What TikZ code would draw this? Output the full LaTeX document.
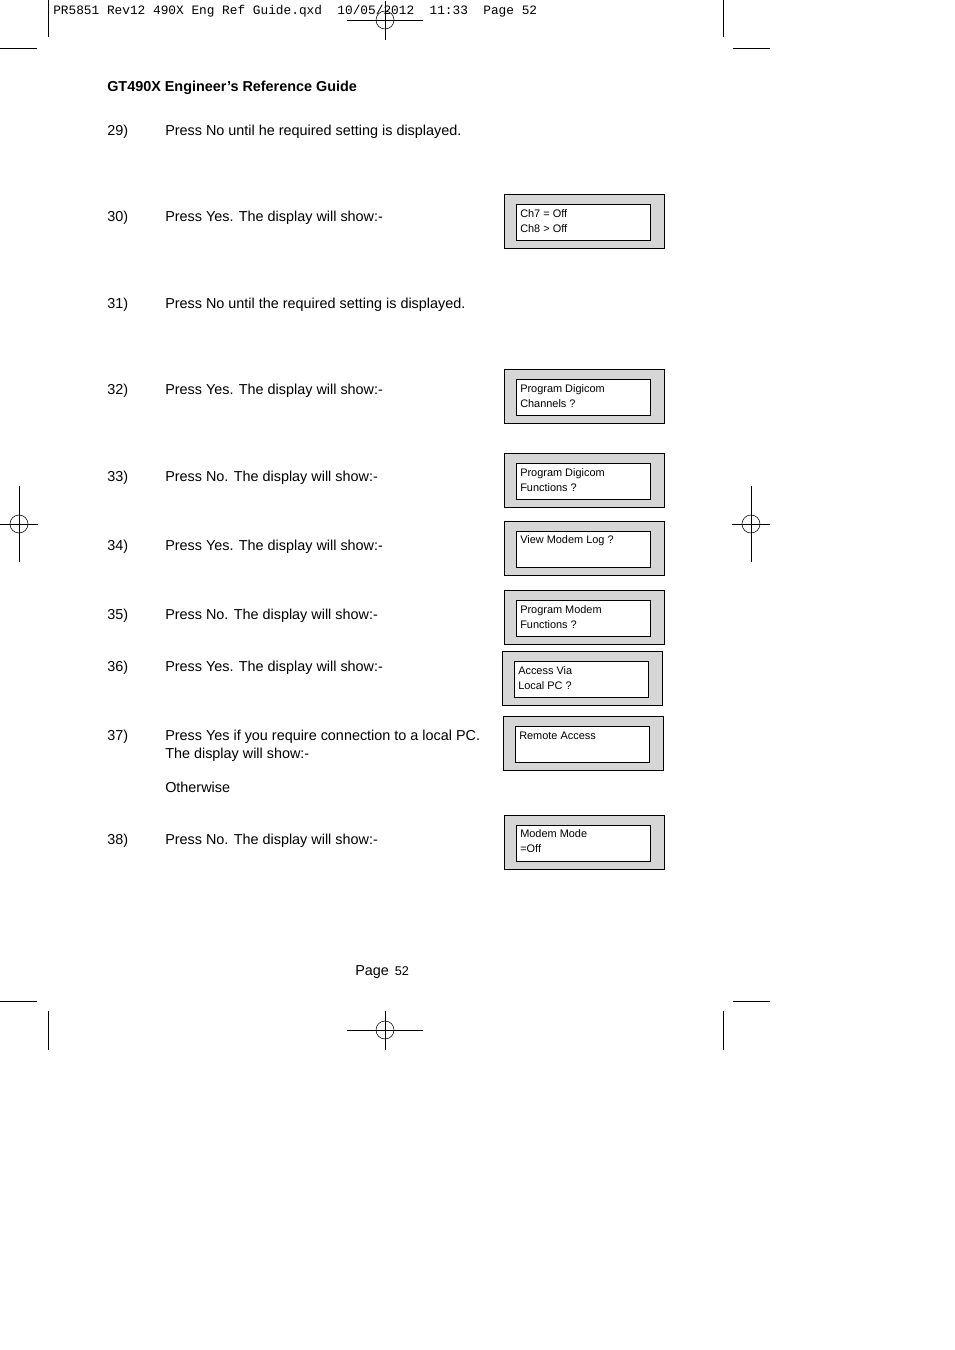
\documentclass[tikz,border=0pt]{standalone}
\usepackage{fontspec}
\setmainfont{Liberation Sans}
\newfontfamily\hdrfont{Liberation Mono}
\usetikzlibrary{positioning}
\definecolor{panelgray}{RGB}{214,214,214}
\tikzset{
  body/.style={anchor=base west, inner sep=0pt, font=\fontsize{10.8}{12}\selectfont},
  lcdtext/.style={anchor=west, inner sep=0pt, align=left, font=\fontsize{8.2}{11}\selectfont},
  panel/.style={draw=black, fill=panelgray, line width=0.5pt},
  screen/.style={draw=black, fill=white, line width=0.5pt},
  crop/.style={line width=0.4pt}
}
% panel: outer box, inner screen, text
\newcommand{\lcdpanel}[6]{%
  \draw[panel] (#1,#2) rectangle ++(160,54);
  \draw[screen] (#1+12,#2+10) rectangle ++(134,36);
  \node[lcdtext] (#6) at (#1+16,#2+#4) {#5};
}
\begin{document}
\begin{tikzpicture}[x=0.75pt,y=-0.75pt]
\useasboundingbox (0,0) rectangle (954,1350);
% crop marks
\draw[crop] (48,0) -- (48,37) (0,48) -- (37,48);
\draw[crop] (723,0) -- (723,37) (733,48) -- (770,48);
\draw[crop] (48,1011) -- (48,1050) (0,1001) -- (37,1001);
\draw[crop] (723,1011) -- (723,1050) (733,1001) -- (770,1001);
\foreach \cx/\cy in {385/20, 385/1030} {
  \draw[crop] (\cx,\cy) circle (9);
  \draw[crop] (\cx-38,\cy) -- (\cx+38,\cy) (\cx,\cy-19) -- (\cx,\cy+20);
}
\foreach \cx in {19, 751} {
  \draw[crop] (\cx,524) circle (9);
  \draw[crop] (\cx-19,524) -- (\cx+19,524) (\cx,486) -- (\cx,562);
}
\node[anchor=base west, inner sep=0pt, font=\hdrfont\fontsize{9.6}{11}\selectfont] (hdr) at (53,14)
  {PR5851 Rev12 490X Eng Ref Guide.qxd\ \ 10/05/2012\ \ 11:33\ \ Page 52};
\node[body, font=\bfseries\fontsize{10.8}{12}\selectfont] (title) at (107,91) {GT490X Engineer’s Reference Guide};
% steps
\foreach \n/\y/\t in {29/135/{Press No until he required setting is displayed.},
  30/221/{Press Yes. The display will show:-},
  31/308/{Press No until the required setting is displayed.},
  32/394/{Press Yes. The display will show:-},
  33/481/{Press No. The display will show:-},
  34/550/{Press Yes. The display will show:-},
  35/619/{Press No. The display will show:-},
  36/671/{Press Yes. The display will show:-},
  37/740/{Press Yes if you require connection to a local PC.},
  38/844/{Press No. The display will show:-}} {
  \node[body] (num\n) at (107,\y) {\n)};
  \node[body] (step\n) at (165,\y) {\t};
}
\node[body] (step37b) at (165,758) {The display will show:-};
\node[body] (otherwise) at (165,792) {Otherwise};
% displays
\lcdpanel{504}{194}{}{27}{Ch7 = Off\\Ch8 > Off}{lcdA}
\lcdpanel{504}{369}{}{27}{Program Digicom\\Channels ?}{lcdB}
\lcdpanel{504}{453}{}{27}{Program Digicom\\Functions ?}{lcdC}
\lcdpanel{504}{521}{}{20}{View Modem Log ?}{lcdD}
\lcdpanel{504}{590}{}{27}{Program Modem\\Functions ?}{lcdE}
\lcdpanel{502}{651}{}{27}{Access Via\\Local PC ?}{lcdF}
\lcdpanel{503}{716}{}{20}{Remote Access}{lcdG}
\lcdpanel{504}{815}{}{26}{Modem Mode\\=Off}{lcdH}
% footer
\node[body] (page) at (355,975) {Page};
\node[body, font=\fontsize{9.5}{11}\selectfont, right=4pt of page.base east, anchor=base west] (pnum) {52};
\end{tikzpicture}
\end{document}
